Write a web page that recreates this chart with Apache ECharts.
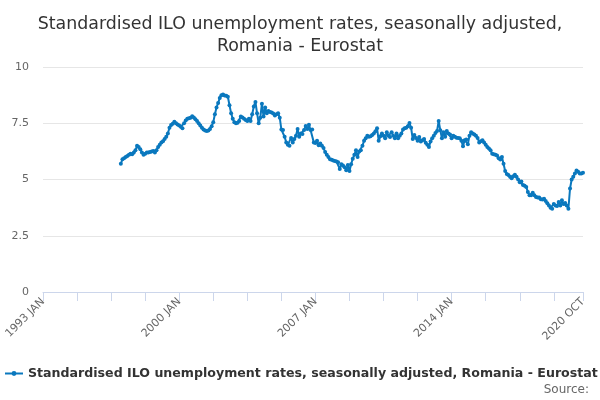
<!DOCTYPE html>
<html>
<head>
<meta charset="utf-8">
<script src="https://cdn.jsdelivr.net/npm/echarts@6/dist/echarts.min.js"></script>
<style>
  html, body { margin: 0; padding: 0; background: #fff; }
  #main { width: 600px; height: 400px; }
</style>
</head>
<body>
<div id="main"></div>
<script>
const monthNames = ['JAN', 'FEB', 'MAR', 'APR', 'MAY', 'JUN', 'JUL', 'AUG', 'SEP', 'OCT', 'NOV', 'DEC'];
const firstYear = 1993;
const monthCount = 334; // 1993 JAN .. 2020 OCT
const leadingGap = 48;  // no values before 1997 JAN

// monthly rates, 1997 JAN .. 2020 OCT
const rates = [
  5.7, 5.9, 5.95, 6.0, 6.05, 6.1, 6.15, 6.12, 6.2, 6.3, 6.5, 6.45,
  6.35, 6.2, 6.1, 6.15, 6.2, 6.2, 6.22, 6.24, 6.27, 6.2, 6.3, 6.45,
  6.55, 6.65, 6.7, 6.8, 6.9, 7.05, 7.3, 7.42, 7.48, 7.57, 7.5, 7.45,
  7.4, 7.35, 7.28, 7.5, 7.62, 7.7, 7.72, 7.75, 7.81, 7.76, 7.68, 7.6,
  7.5, 7.4, 7.3, 7.22, 7.18, 7.16, 7.18, 7.25, 7.37, 7.55, 7.9, 8.2,
  8.4, 8.62, 8.75, 8.78, 8.73, 8.72, 8.68, 8.3, 7.95, 7.7, 7.55, 7.5,
  7.52, 7.6, 7.8, 7.76, 7.7, 7.65, 7.6, 7.7, 7.6, 7.9, 8.25, 8.45,
  7.95, 7.5, 7.75, 8.37, 7.8, 8.2, 7.95, 8.05, 8.0, 7.98, 7.93, 7.85,
  7.9, 7.95, 7.75, 7.22, 7.2, 6.9, 6.65, 6.55, 6.5, 6.85, 6.65, 6.8,
  6.95, 7.25, 6.9, 7.04, 7.02, 7.2, 7.38, 7.25, 7.43, 7.2, 7.22, 6.65,
  6.62, 6.72, 6.52, 6.6, 6.5, 6.4, 6.22, 6.1, 6.0, 5.9, 5.88, 5.84,
  5.82, 5.8, 5.77, 5.47, 5.68, 5.62, 5.55, 5.41, 5.65, 5.38, 5.68, 5.92,
  6.1, 6.3, 6.0, 6.25, 6.3, 6.5, 6.72, 6.83, 6.95, 6.9, 6.92, 6.98,
  7.04, 7.15, 7.28, 6.72, 6.92, 7.05, 6.95, 6.83, 7.1, 6.95, 6.89, 7.1,
  6.95, 6.83, 7.04, 6.83, 6.95, 7.04, 7.22, 7.28, 7.3, 7.37, 7.51, 7.3,
  6.8, 6.98, 6.85, 6.72, 6.89, 6.69, 6.75, 6.8, 6.63, 6.55, 6.45, 6.69,
  6.83, 6.95, 7.07, 7.16, 7.6, 7.19, 6.83, 7.1, 6.9, 7.16, 7.04, 7.0,
  6.83, 6.95, 6.9, 6.86, 6.84, 6.83, 6.72, 6.48, 6.75, 6.78, 6.57, 6.95,
  7.1, 7.05, 7.0, 6.95, 6.85, 6.65, 6.7, 6.75, 6.65, 6.55, 6.45, 6.38,
  6.3, 6.15, 6.12, 6.1, 6.07, 5.95, 5.89, 6.0, 5.7, 5.38, 5.24, 5.2,
  5.12, 5.06, 5.15, 5.21, 5.12, 5.0, 4.88, 4.91, 4.76, 4.72, 4.67, 4.45,
  4.3, 4.3, 4.41, 4.3, 4.22, 4.2, 4.2, 4.12, 4.11, 4.14, 4.05, 3.95,
  3.85, 3.75, 3.7, 3.91, 3.85, 3.82, 4.0, 3.85, 4.08, 3.91, 3.96, 3.85,
  3.7, 4.6, 5.0, 5.12, 5.27, 5.4, 5.35, 5.27, 5.27, 5.3
];

const seriesName = 'Standardised ILO unemployment rates, seasonally adjusted, Romania - Eurostat';

const categories = [];
for (let i = 0; i < monthCount; i++) {
  categories.push((firstYear + Math.floor(i / 12)) + ' ' + monthNames[i % 12]);
}
const values = new Array(leadingGap).fill(null).concat(rates);

const font = 'DejaVu Sans';
const myChart = echarts.init(document.getElementById('main'));

const option = {
  animation: false,
  textStyle: { fontFamily: font },
  title: {
    text: 'Standardised ILO unemployment rates, seasonally adjusted,\nRomania - Eurostat',
    left: 'center',
    top: 8,
    textStyle: { fontFamily: font, fontSize: 17.4, fontWeight: 'normal', color: '#333', lineHeight: 22 }
  },
  legend: {
    bottom: 15,
    left: -1,
    itemWidth: 18,
    itemHeight: 6,
    itemGap: 4,
    textStyle: { fontFamily: font, fontSize: 12.6, fontWeight: 'bold', color: '#333' },
    data: [seriesName]
  },
  graphic: [{
    type: 'text',
    right: 11,
    bottom: 4,
    style: { text: 'Source:', font: '12px ' + font, fill: '#666' }
  }],
  grid: { left: 43, right: 17, top: 67, bottom: 108 },
  xAxis: {
    type: 'category',
    boundaryGap: false,
    data: categories,
    axisLine: { lineStyle: { color: '#ccd6eb' } },
    axisTick: {
      length: 9,
      lineStyle: { color: '#ccd6eb' },
      interval: (i) => i % 21 === 0 || i === monthCount - 1
    },
    axisLabel: {
      rotate: 45,
      color: '#666',
      fontSize: 11,
      fontFamily: font,
      margin: 8,
      interval: (i) => i % 84 === 0 || i === monthCount - 1
    },
    splitLine: { show: false }
  },
  yAxis: {
    type: 'value',
    min: 0,
    max: 10,
    interval: 2.5,
    axisLine: { show: false },
    axisTick: { show: false },
    axisLabel: { color: '#666', fontSize: 11, fontFamily: font, margin: 14 },
    splitLine: { lineStyle: { color: '#e6e6e6' } }
  },
  series: [{
    name: seriesName,
    type: 'line',
    data: values,
    connectNulls: false,
    symbol: 'circle',
    symbolSize: 4,
    showSymbol: true,
    showAllSymbol: true,
    lineStyle: { color: '#0a78be', width: 2 },
    itemStyle: { color: '#0a78be' }
  }]
};

myChart.setOption(option);
</script>
</body>
</html>
